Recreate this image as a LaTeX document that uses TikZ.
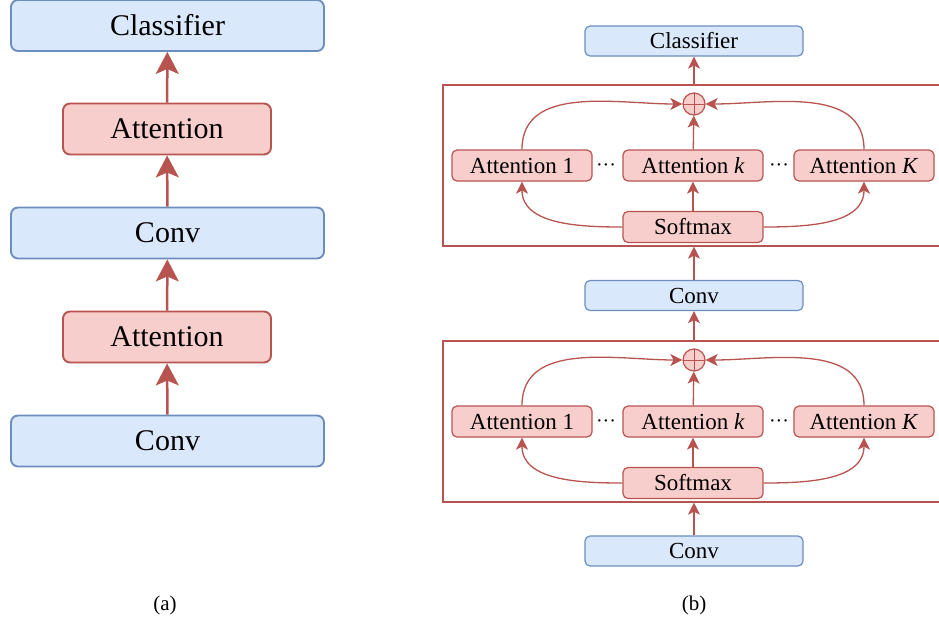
\documentclass[tikz,border=0pt]{standalone}
\usepackage{fontspec}
\setmainfont{Liberation Serif}
\usepackage{tikz}
\usetikzlibrary{arrows.meta}

\definecolor{bluefill}{HTML}{DAE8FC}
\definecolor{bluedraw}{HTML}{6C8EBF}
\definecolor{redfill}{HTML}{F8CECC}
\definecolor{reddraw}{HTML}{B85450}

\tikzset{
  bigblue/.style={draw=bluedraw, fill=bluefill, line width=1.9pt, rounded corners=7pt,
    minimum width=313pt, minimum height=51pt, font=\rmfamily\fontsize{30}{34}\selectfont},
  bigred/.style={draw=reddraw, fill=redfill, line width=1.9pt, rounded corners=7pt,
    minimum width=208pt, minimum height=51pt, font=\rmfamily\fontsize{30}{34}\selectfont},
  smallblue/.style={draw=bluedraw, fill=bluefill, line width=1.2pt, rounded corners=5pt,
    minimum width=218pt, minimum height=30pt, font=\rmfamily\fontsize{23}{26}\selectfont},
  smallred/.style={draw=reddraw, fill=redfill, line width=1.2pt, rounded corners=5pt,
    minimum width=140pt, minimum height=31pt, font=\rmfamily\fontsize{23}{26}\selectfont},
  outerbox/.style={draw=reddraw, line width=1.3pt, minimum width=502pt, minimum height=161pt},
  plus/.style={circle, draw=reddraw, fill=redfill, line width=1.2pt, minimum size=22pt, inner sep=0pt,
    path picture={\draw[reddraw, line width=1pt] (path picture bounding box.north) -- (path picture bounding box.south)
      (path picture bounding box.west) -- (path picture bounding box.east);}},
  bigarrow/.style={draw=reddraw, line width=2.5pt, -{Stealth[length=22pt, width=23pt, inset=5pt]}},
  smallarrow/.style={draw=reddraw, line width=1.3pt, -{Stealth[length=12pt, width=12pt, inset=3pt]}},
  dots/.style={font=\rmfamily\fontsize{20}{24}\selectfont, inner sep=0pt},
  caption/.style={font=\rmfamily\fontsize{21}{24}\selectfont}
}

\begin{document}
\begin{tikzpicture}[x=1pt, y=-1pt]
  \useasboundingbox (0,0) rectangle (939,624);

  % (a)
  \node[bigblue] (aconv1) at (167.5,441) {Conv};
  \node[bigred] (aatt1) at (167,337) {Attention};
  \node[bigblue] (aconv2) at (167.5,233) {Conv};
  \node[bigred] (aatt2) at (167,129) {Attention};
  \node[bigblue] (acls) at (167.5,25.5) {Classifier};
  \draw[bigarrow] (aconv1) -- (aatt1);
  \draw[bigarrow] (aatt1) -- (aconv2);
  \draw[bigarrow] (aconv2) -- (aatt2);
  \draw[bigarrow] (aatt2) -- (acls);
  \node[caption] (capa) at (165,605) {(a)};

  % (b)
  \node[smallblue] (bcls) at (694,41) {Classifier};
  \node[smallblue] (bconv2) at (694,295.5) {Conv};
  \node[smallblue] (bconv1) at (694,551) {Conv};

  \foreach \i/\y in {1/165.5, 2/421.5} {
    \node[outerbox] (blk\i) at (694,\y) {};
    \node[plus] (sum\i) at (694,\y-61.5) {};
    \node[smallred] (one\i) at (522,\y) {Attention 1};
    \node[smallred] (mid\i) at (693,\y) {Attention \textit{k}};
    \node[smallred] (last\i) at (864,\y) {Attention \textit{K}};
    \node[smallred] (soft\i) at (693,\y+61.5) {Softmax};
    \node[dots] (dotl\i) at (606,\y+2) {\textperiodcentered\textperiodcentered\textperiodcentered};
    \node[dots] (dotr\i) at (779,\y+2) {\textperiodcentered\textperiodcentered\textperiodcentered};
    \draw[smallarrow] (soft\i) -- (mid\i);
    \draw[smallarrow] (soft\i.west) to[out=180, in=-90] (one\i.south);
    \draw[smallarrow] (soft\i.east) to[out=0, in=-90] (last\i.south);
    \draw[smallarrow] (mid\i) -- (sum\i);
    \draw[smallarrow] (one\i.north) to[out=90, in=180] (sum\i.west);
    \draw[smallarrow] (last\i.north) to[out=90, in=0] (sum\i.east);
  }

  \draw[smallarrow] (bconv1) -- (blk2.south);
  \draw[smallarrow] (blk2.north) -- (bconv2);
  \draw[smallarrow] (bconv2) -- (blk1.south);
  \draw[smallarrow] (blk1.north) -- (bcls);
  \node[caption] (capb) at (694,605) {(b)};
\end{tikzpicture}
\end{document}
